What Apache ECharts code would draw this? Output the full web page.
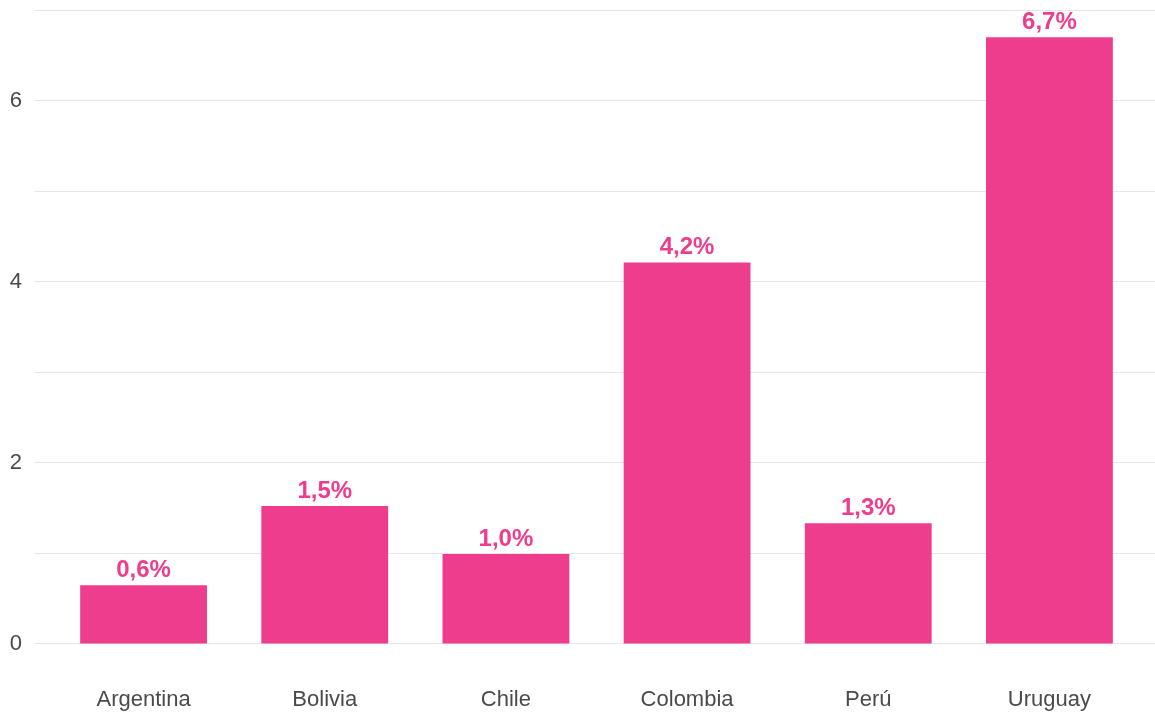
<!DOCTYPE html>
<html>
<head>
<meta charset="utf-8">
<script src="https://cdn.jsdelivr.net/npm/echarts@6/dist/echarts.min.js"></script>
<style>
html,body{margin:0;padding:0;background:#fff;}
#chart{width:1155px;height:715px;}
</style>
</head>
<body>
<div id="chart"></div>
<script>
const categories = ['Argentina', 'Bolivia', 'Chile', 'Colombia', 'Perú', 'Uruguay'];
const values = [0.645, 1.52, 0.99, 4.21, 1.33, 6.7];
const yMin = 0, yMax = 7, yStep = 1;

const chart = echarts.init(document.getElementById('chart'));
const font = 'Arial, "Liberation Sans", sans-serif';
chart.setOption({
  animation: false,
  grid: [
    {left: 35, right: 0, top: 10, bottom: 71.5},
    {left: 53, right: 15, top: 10, bottom: 71.5}
  ],
  xAxis: [
    {gridIndex: 0, type: 'category', data: categories, show: false},
    {gridIndex: 1, type: 'category', data: categories,
     axisLine: {show: false}, axisTick: {show: false},
     axisLabel: {color: '#4a4a4a', fontSize: 22, fontFamily: font, margin: 45}}
  ],
  yAxis: [
    {gridIndex: 0, type: 'value', min: yMin, max: yMax, interval: yStep,
     axisLine: {show: false}, axisTick: {show: false},
     splitLine: {lineStyle: {color: '#e6e6e6', width: 1}},
     axisLabel: {color: '#4a4a4a', fontSize: 22, fontFamily: font, margin: 13,
       padding: [4, 0, 0, 0],
       formatter: v => (v % 2 === 0 ? String(v) : '')}},
    {gridIndex: 1, type: 'value', min: yMin, max: yMax, interval: yStep, show: false,
     splitLine: {show: false}}
  ],
  series: [{
    type: 'bar',
    xAxisIndex: 1, yAxisIndex: 1,
    data: values,
    barWidth: '70%',
    itemStyle: {color: '#EE3D8C'},
    label: {
      show: true, position: 'top', distance: 3,
      color: '#EE3D8C', fontSize: 24, fontWeight: 'bold', fontFamily: font,
      formatter: p => p.value.toFixed(1).replace('.', ',') + '%'
    }
  }]
});
</script>
</body>
</html>
